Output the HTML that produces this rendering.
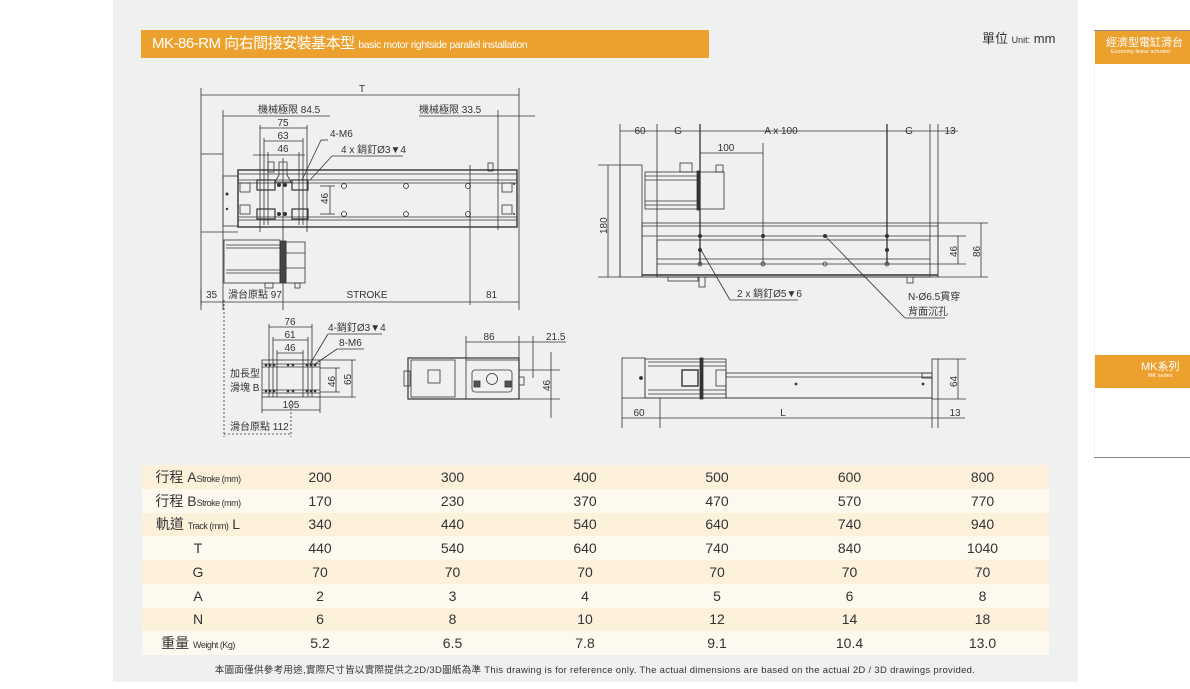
<!DOCTYPE html>
<html><head><meta charset="utf-8">
<style>
*{margin:0;padding:0;box-sizing:border-box}
body{width:1190px;height:689px;background:#fff;position:relative;overflow:hidden;font-family:"Liberation Sans","Noto Sans CJK TC",sans-serif}
.panel{position:absolute;left:113px;top:0;width:965px;height:682px;background:#eff0f0}
.title{position:absolute;left:141px;top:30px;width:568px;height:28px;background:#eca12e;color:#fff;font-size:15px;line-height:28px;padding-left:11px;white-space:nowrap;font-family:"Liberation Sans","Noto Sans CJK TC",sans-serif;letter-spacing:-0.5px}
.title small{font-size:10.5px;letter-spacing:-0.4px}
.unit{position:absolute;left:982px;top:28px;font-size:13px;color:#333}
.unit small{font-size:9px}
table{position:absolute;left:142px;top:465px;width:907px;border-collapse:collapse;color:#333;table-layout:fixed}
td{height:23.75px;font-size:14px;text-align:center;padding:0}
tr:nth-child(odd){background:#fdf1dc}
tr:nth-child(even){background:#fef9ef}
td.l{text-align:center;white-space:nowrap}
td.l small{font-size:9px;letter-spacing:-0.5px}
.foot{position:absolute;left:0;width:1190px;top:662px;text-align:center;font-size:9.5px;color:#333;padding-left:0;letter-spacing:0.3px}
.sl{position:absolute;left:1094px;width:96px;height:1px;background:#888}
.ob{position:absolute;left:1095px;width:95px;background:#eca12e;color:#fff}
</style></head><body>
<div class="panel"></div>
<div class="title">MK-86-RM 向右間接安裝基本型 <small>basic motor rightside parallel installation</small></div>
<div class="unit">單位 <small>Unit:</small> mm</div>

<svg style="position:absolute;left:0;top:0" width="1190" height="689" xmlns="http://www.w3.org/2000/svg" font-family="Liberation Sans, Noto Sans CJK TC, sans-serif" fill="none" stroke="#333" stroke-width="0.8">
<g>
<line x1="201" y1="88" x2="201" y2="310"/><line x1="519" y1="88" x2="519" y2="310"/>
<line x1="201" y1="95" x2="519" y2="95"/>
<text x="362" y="92" font-size="10" fill="#333" stroke="none" text-anchor="middle">T</text>
<line x1="223" y1="110" x2="223" y2="310"/>
<line x1="223" y1="116" x2="330" y2="116"/>
<text x="258" y="113" font-size="10" fill="#333" stroke="none">機械極限 84.5</text>
<text x="419" y="113" font-size="10" fill="#333" stroke="none">機械極限 33.5</text>
<line x1="419" y1="116" x2="535" y2="116"/>
<line x1="498" y1="110" x2="498" y2="230"/>
<line x1="260" y1="128" x2="307" y2="128"/><text x="283" y="126" font-size="10" fill="#333" stroke="none" text-anchor="middle">75</text>
<line x1="264" y1="141" x2="303" y2="141"/><text x="283" y="139" font-size="10" fill="#333" stroke="none" text-anchor="middle">63</text>
<line x1="253" y1="155" x2="305" y2="155"/><text x="283" y="152" font-size="10" fill="#333" stroke="none" text-anchor="middle">46</text>
<line x1="260" y1="125" x2="260" y2="232"/><line x1="307" y1="125" x2="307" y2="232"/>
<line x1="264" y1="138" x2="264" y2="225"/><line x1="303" y1="138" x2="303" y2="225"/>
<line x1="268" y1="152" x2="268" y2="225"/><line x1="299" y1="152" x2="299" y2="225"/>
<text x="330" y="137" font-size="10" fill="#333" stroke="none">4-M6</text>
<line x1="328" y1="140" x2="321" y2="140"/><line x1="321" y1="140" x2="302" y2="180"/>
<text x="341" y="153" font-size="10" fill="#333" stroke="none">4 x 銷釘Ø3▼4</text>
<line x1="403" y1="156" x2="332" y2="156"/><line x1="332" y1="156" x2="310" y2="180"/>
<rect x="238" y="170" width="279" height="57" stroke-width="1.4"/>
<line x1="238" y1="174" x2="517" y2="174"/>
<line x1="238" y1="180" x2="517" y2="180"/><line x1="238" y1="183" x2="517" y2="183"/>
<line x1="238" y1="217" x2="517" y2="217"/><line x1="238" y1="220" x2="517" y2="220"/>
<rect x="223" y="176" width="15" height="50"/>
<rect x="240" y="183" width="10" height="9"/><rect x="240" y="205" width="10" height="9"/>
<rect x="502" y="183" width="10" height="9"/><rect x="502" y="205" width="10" height="9"/>
<rect x="257" y="180" width="18" height="10" stroke-width="1.2"/><rect x="292" y="180" width="16" height="10" stroke-width="1.2"/>
<rect x="257" y="209" width="18" height="10" stroke-width="1.2"/><rect x="292" y="209" width="16" height="10" stroke-width="1.2"/>
<path d="M279 162 L287 162 L287 175 L291 182 L275 182 L279 175Z"/>
<rect x="268" y="162" width="6" height="10"/><rect x="488" y="163" width="5" height="8"/>
<g fill="#333" stroke="none">
<circle cx="279" cy="185" r="2"/><circle cx="285" cy="185" r="2"/><circle cx="279" cy="214" r="2"/><circle cx="285" cy="214" r="2"/>
<circle cx="227" cy="194" r="1.5"/><circle cx="227" cy="209" r="1.2"/><circle cx="514" cy="184" r="1"/><circle cx="514" cy="214" r="1"/>
</g>
<circle cx="344" cy="186" r="2.5"/><circle cx="406" cy="186" r="2.5"/><circle cx="468" cy="186" r="2.5"/>
<circle cx="344" cy="214" r="2.5"/><circle cx="406" cy="214" r="2.5"/><circle cx="468" cy="214" r="2.5"/>
<line x1="320" y1="186" x2="335" y2="186"/><line x1="320" y1="214" x2="335" y2="214"/>
<line x1="330" y1="186" x2="330" y2="214"/><text x="328" y="204" font-size="10" fill="#333" stroke="none" transform="rotate(-90 328 204)">46</text>
<line x1="283" y1="158" x2="283" y2="310"/><line x1="470" y1="165" x2="470" y2="305"/>
<line x1="201" y1="154" x2="223" y2="154"/><line x1="201" y1="232" x2="238" y2="232"/>
<rect x="224" y="240" width="56" height="43"/>
<line x1="226" y1="245" x2="280" y2="245"/><line x1="226" y1="248" x2="280" y2="248"/>
<line x1="226" y1="270" x2="280" y2="270"/><line x1="226" y1="273" x2="280" y2="273"/>
<rect x="280" y="241" width="6" height="42" fill="#444"/>
<rect x="286" y="242" width="19" height="41"/>
<line x1="286" y1="253" x2="305" y2="253"/><line x1="286" y1="268" x2="305" y2="268"/>
<rect x="265" y="283" width="8" height="5"/><rect x="295" y="283" width="5" height="5"/>
<line x1="201" y1="302" x2="519" y2="302"/>
<line x1="201" y1="289" x2="201" y2="305"/>
<text x="206" y="298" font-size="10" fill="#333" stroke="none">35</text>
<text x="228" y="298" font-size="10" fill="#333" stroke="none">滑台原點 97</text>
<text x="367" y="298" font-size="10" fill="#333" stroke="none" text-anchor="middle">STROKE</text>
<text x="486" y="298" font-size="10" fill="#333" stroke="none">81</text>
</g>

<g>
<line x1="620" y1="131" x2="958" y2="131"/>
<line x1="620" y1="124" x2="620" y2="277"/><line x1="657" y1="124" x2="657" y2="277"/>
<line x1="700" y1="124" x2="700" y2="265" stroke-width="1.3"/><line x1="887" y1="124" x2="887" y2="265" stroke-width="1.3"/>
<line x1="930" y1="124" x2="930" y2="240"/><line x1="938" y1="124" x2="938" y2="277"/>
<text x="640" y="134" font-size="10" fill="#333" stroke="none" text-anchor="middle">60</text>
<text x="678" y="134" font-size="10" fill="#333" stroke="none" text-anchor="middle">G</text>
<text x="781" y="134" font-size="10" fill="#333" stroke="none" text-anchor="middle">A x 100</text>
<text x="909" y="134" font-size="10" fill="#333" stroke="none" text-anchor="middle">G</text>
<text x="950" y="134" font-size="10" fill="#333" stroke="none" text-anchor="middle">13</text>
<line x1="700" y1="153" x2="763" y2="153"/><line x1="763" y1="143" x2="763" y2="265"/>
<text x="726" y="151" font-size="10" fill="#333" stroke="none" text-anchor="middle">100</text>
<rect x="620" y="165" width="22" height="112"/>
<rect x="642" y="223" width="296" height="54"/>
<line x1="642" y1="226" x2="938" y2="226"/>
<rect x="657" y="240" width="273" height="37"/>
<line x1="642" y1="236" x2="966" y2="236"/><line x1="657" y1="259" x2="930" y2="259"/><line x1="657" y1="264" x2="966" y2="264"/>
<line x1="642" y1="275" x2="938" y2="275" stroke-width="1.5"/>
<rect x="645" y="172" width="53" height="37"/>
<line x1="645" y1="176" x2="698" y2="176"/><line x1="645" y1="180" x2="698" y2="180"/><line x1="645" y1="201" x2="698" y2="201"/><line x1="645" y1="205" x2="698" y2="205"/>
<rect x="697" y="171" width="3" height="39" fill="#333"/>
<rect x="700" y="172" width="24" height="37"/>
<rect x="680" y="163" width="12" height="9"/><rect x="716" y="165" width="7" height="7"/>
<rect x="668" y="277" width="30" height="4"/><rect x="699" y="277" width="6" height="10"/><rect x="907" y="277" width="6" height="6"/>
<g fill="#333" stroke="none">
<circle cx="700" cy="236" r="2"/><circle cx="763" cy="236" r="2"/><circle cx="825" cy="236" r="2"/><circle cx="887" cy="236" r="2"/>
<circle cx="700" cy="250" r="2"/><circle cx="887" cy="250" r="2"/>
</g>
<circle cx="700" cy="264" r="2"/><circle cx="763" cy="264" r="2"/><circle cx="825" cy="264" r="2"/><circle cx="887" cy="264" r="2"/>
<line x1="598" y1="165" x2="620" y2="165"/><line x1="598" y1="277" x2="620" y2="277"/>
<line x1="608" y1="165" x2="608" y2="277"/>
<text x="607" y="234" font-size="10" fill="#333" stroke="none" transform="rotate(-90 607 234)">180</text>
<line x1="958" y1="236" x2="958" y2="264"/><line x1="938" y1="223" x2="988" y2="223"/><line x1="938" y1="277" x2="988" y2="277"/>
<line x1="981" y1="223" x2="981" y2="277"/>
<text x="957" y="257" font-size="10" fill="#333" stroke="none" transform="rotate(-90 957 257)">46</text>
<text x="980" y="257" font-size="10" fill="#333" stroke="none" transform="rotate(-90 980 257)">86</text>
<line x1="701" y1="250" x2="730" y2="300"/><line x1="730" y1="300" x2="798" y2="300"/>
<text x="737" y="297" font-size="10" fill="#333" stroke="none">2 x 銷釘Ø5▼6</text>
<line x1="826" y1="237" x2="905" y2="318"/><line x1="905" y1="318" x2="945" y2="318"/>
<text x="908" y="300" font-size="10" fill="#333" stroke="none">N-Ø6.5貫穿</text>
<text x="908" y="315" font-size="10" fill="#333" stroke="none">背面沉孔</text>
</g>

<g>
<line x1="224" y1="300" x2="224" y2="437" stroke-dasharray="2,2"/>
<line x1="224" y1="434" x2="291" y2="434" stroke-dasharray="2,2"/>
<line x1="291" y1="400" x2="291" y2="437" stroke-dasharray="2,2"/>
<text x="230" y="430" font-size="10" fill="#333" stroke="none">滑台原點 112</text>
<text x="230" y="377" font-size="10" fill="#333" stroke="none">加長型</text>
<text x="230" y="391" font-size="10" fill="#333" stroke="none">滑塊 B</text>
<rect x="262" y="360" width="58" height="37"/>
<line x1="262" y1="364" x2="320" y2="364"/><line x1="262" y1="367" x2="320" y2="367"/>
<line x1="262" y1="390" x2="320" y2="390"/><line x1="262" y1="393" x2="320" y2="393"/>
<line x1="269" y1="324" x2="269" y2="397"/><line x1="312" y1="324" x2="312" y2="397"/>
<line x1="273" y1="337" x2="273" y2="397"/><line x1="308" y1="337" x2="308" y2="397"/>
<line x1="277" y1="350" x2="277" y2="397"/><line x1="303" y1="350" x2="303" y2="397"/>
<line x1="262" y1="397" x2="262" y2="413"/><line x1="320" y1="397" x2="320" y2="413"/>
<line x1="269" y1="327" x2="312" y2="327"/><text x="290" y="325" font-size="10" fill="#333" stroke="none" text-anchor="middle">76</text>
<line x1="273" y1="340" x2="308" y2="340"/><text x="290" y="338" font-size="10" fill="#333" stroke="none" text-anchor="middle">61</text>
<line x1="277" y1="353" x2="303" y2="353"/><text x="290" y="351" font-size="10" fill="#333" stroke="none" text-anchor="middle">46</text>
<line x1="262" y1="410" x2="320" y2="410"/><text x="291" y="408" font-size="10" fill="#333" stroke="none" text-anchor="middle">105</text>
<g fill="#333" stroke="none">
<circle cx="266" cy="365" r="1.3"/><circle cx="270" cy="365" r="1.3"/><circle cx="274" cy="365" r="1.3"/><circle cx="288" cy="365" r="1.3"/><circle cx="293" cy="365" r="1.3"/><circle cx="307" cy="365" r="1.3"/><circle cx="311" cy="365" r="1.3"/><circle cx="315" cy="365" r="1.3"/>
<circle cx="266" cy="391" r="1.3"/><circle cx="270" cy="391" r="1.3"/><circle cx="274" cy="391" r="1.3"/><circle cx="288" cy="391" r="1.3"/><circle cx="293" cy="391" r="1.3"/><circle cx="307" cy="391" r="1.3"/><circle cx="311" cy="391" r="1.3"/><circle cx="315" cy="391" r="1.3"/>
</g>
<text x="328" y="331" font-size="10" fill="#333" stroke="none">4-銷釘Ø3▼4</text>
<line x1="328" y1="334" x2="382" y2="334"/><line x1="328" y1="334" x2="310" y2="364"/>
<text x="339" y="346" font-size="10" fill="#333" stroke="none">8-M6</text>
<line x1="337" y1="349" x2="364" y2="349"/><line x1="337" y1="349" x2="315" y2="364"/>
<line x1="320" y1="368" x2="340" y2="368"/><line x1="320" y1="392" x2="340" y2="392"/>
<line x1="336" y1="368" x2="336" y2="392"/><line x1="320" y1="360" x2="356" y2="360"/><line x1="320" y1="397" x2="356" y2="397"/>
<line x1="352" y1="360" x2="352" y2="397"/>
<text x="335" y="387" font-size="10" fill="#333" stroke="none" transform="rotate(-90 335 387)">46</text>
<text x="351" y="385" font-size="10" fill="#333" stroke="none" transform="rotate(-90 351 385)">65</text>
</g>

<g>
<rect x="408" y="358" width="111" height="41" stroke-width="1.2"/>
<rect x="411" y="360" width="44" height="37"/>
<rect x="404" y="371" width="6" height="15"/>
<rect x="428" y="370" width="12" height="13"/>
<rect x="466" y="360" width="53" height="39"/>
<rect x="472" y="370" width="40" height="22" rx="3"/>
<circle cx="492" cy="379" r="5.5"/>
<rect x="474" y="381" width="6" height="6" fill="#555"/><rect x="505" y="381" width="6" height="6" fill="#555"/>
<rect x="519" y="377" width="5" height="8"/>
<line x1="466" y1="336" x2="466" y2="360"/><line x1="519" y1="336" x2="519" y2="358"/><line x1="533" y1="336" x2="533" y2="378"/>
<line x1="466" y1="342" x2="566" y2="342"/>
<text x="489" y="340" font-size="10" fill="#333" stroke="none" text-anchor="middle">86</text>
<text x="546" y="340" font-size="10" fill="#333" stroke="none">21.5</text>
<line x1="519" y1="370" x2="560" y2="370"/><line x1="519" y1="399" x2="560" y2="399"/>
<line x1="551" y1="352" x2="551" y2="418"/>
<text x="550" y="391" font-size="10" fill="#333" stroke="none" transform="rotate(-90 550 391)">46</text>
</g>

<g>
<rect x="622" y="358" width="23" height="40"/>
<rect x="645" y="359" width="81" height="39"/>
<line x1="648" y1="362" x2="726" y2="362"/><line x1="648" y1="366" x2="726" y2="366"/>
<line x1="648" y1="390" x2="726" y2="390"/><line x1="648" y1="394" x2="726" y2="394"/>
<rect x="700" y="358" width="3" height="41" fill="#333"/>
<rect x="682" y="370" width="16" height="16" stroke-width="1.4"/>
<rect x="716" y="370" width="10" height="16"/>
<rect x="726" y="373" width="206" height="25"/>
<line x1="726" y1="377" x2="932" y2="377"/><line x1="645" y1="398" x2="932" y2="398"/>
<rect x="922" y="373" width="10" height="5"/>
<rect x="932" y="359" width="6" height="40"/>
<circle cx="796" cy="384" r="1" fill="#333"/><circle cx="923" cy="384" r="1" fill="#333"/><circle cx="641" cy="378" r="1.5" fill="#333"/>
<line x1="622" y1="398" x2="622" y2="428"/><line x1="660" y1="398" x2="660" y2="428"/><line x1="932" y1="398" x2="932" y2="428"/><line x1="938" y1="399" x2="938" y2="428"/>
<line x1="622" y1="418" x2="965" y2="418"/>
<text x="639" y="416" font-size="10" fill="#333" stroke="none" text-anchor="middle">60</text>
<text x="783" y="416" font-size="10" fill="#333" stroke="none" text-anchor="middle">L</text>
<text x="955" y="416" font-size="10" fill="#333" stroke="none" text-anchor="middle">13</text>
<line x1="938" y1="359" x2="966" y2="359"/><line x1="938" y1="399" x2="966" y2="399"/>
<line x1="958" y1="359" x2="958" y2="399"/>
<text x="957" y="387" font-size="10" fill="#333" stroke="none" transform="rotate(-90 957 387)">64</text>
</g>
</svg>

<table>
<colgroup><col style="width:112px"><col style="width:132px"><col style="width:133px"><col style="width:132px"><col style="width:132px"><col style="width:133px"><col style="width:133px"></colgroup>
<tr><td class="l">行程 A<small>Stroke (mm)</small></td><td>200</td><td>300</td><td>400</td><td>500</td><td>600</td><td>800</td></tr>
<tr><td class="l">行程 B<small>Stroke (mm)</small></td><td>170</td><td>230</td><td>370</td><td>470</td><td>570</td><td>770</td></tr>
<tr><td class="l">軌道 <small>Track (mm)</small> L</td><td>340</td><td>440</td><td>540</td><td>640</td><td>740</td><td>940</td></tr>
<tr><td class="l">T</td><td>440</td><td>540</td><td>640</td><td>740</td><td>840</td><td>1040</td></tr>
<tr><td class="l">G</td><td>70</td><td>70</td><td>70</td><td>70</td><td>70</td><td>70</td></tr>
<tr><td class="l">A</td><td>2</td><td>3</td><td>4</td><td>5</td><td>6</td><td>8</td></tr>
<tr><td class="l">N</td><td>6</td><td>8</td><td>10</td><td>12</td><td>14</td><td>18</td></tr>
<tr><td class="l">重量 <small>Weight (Kg)</small></td><td>5.2</td><td>6.5</td><td>7.8</td><td>9.1</td><td>10.4</td><td>13.0</td></tr>
</table>
<div class="foot">本圖面僅供參考用途,實際尺寸皆以實際提供之2D/3D圖紙為準 This drawing is for reference only. The actual dimensions are based on the actual 2D / 3D drawings provided.</div>

<div class="sl" style="top:30px"></div>
<div class="ob" style="top:31px;height:33px"><div style="font-size:11px;padding:6px 0 0 11px;line-height:12px">經濟型電缸滑台</div><div style="font-size:5.5px;padding-left:16px;line-height:7px">Economy linear actuator</div></div>
<div style="position:absolute;left:1094px;top:64px;width:1px;height:393px;background:#f3f3f3"></div>
<div class="ob" style="top:355px;height:33px"><div style="font-size:11px;padding:6px 0 0 46px;line-height:12px">MK系列</div><div style="font-size:5.5px;padding-left:53px;line-height:7px">MK series</div></div>
<div class="sl" style="top:457px"></div>
</body></html>
